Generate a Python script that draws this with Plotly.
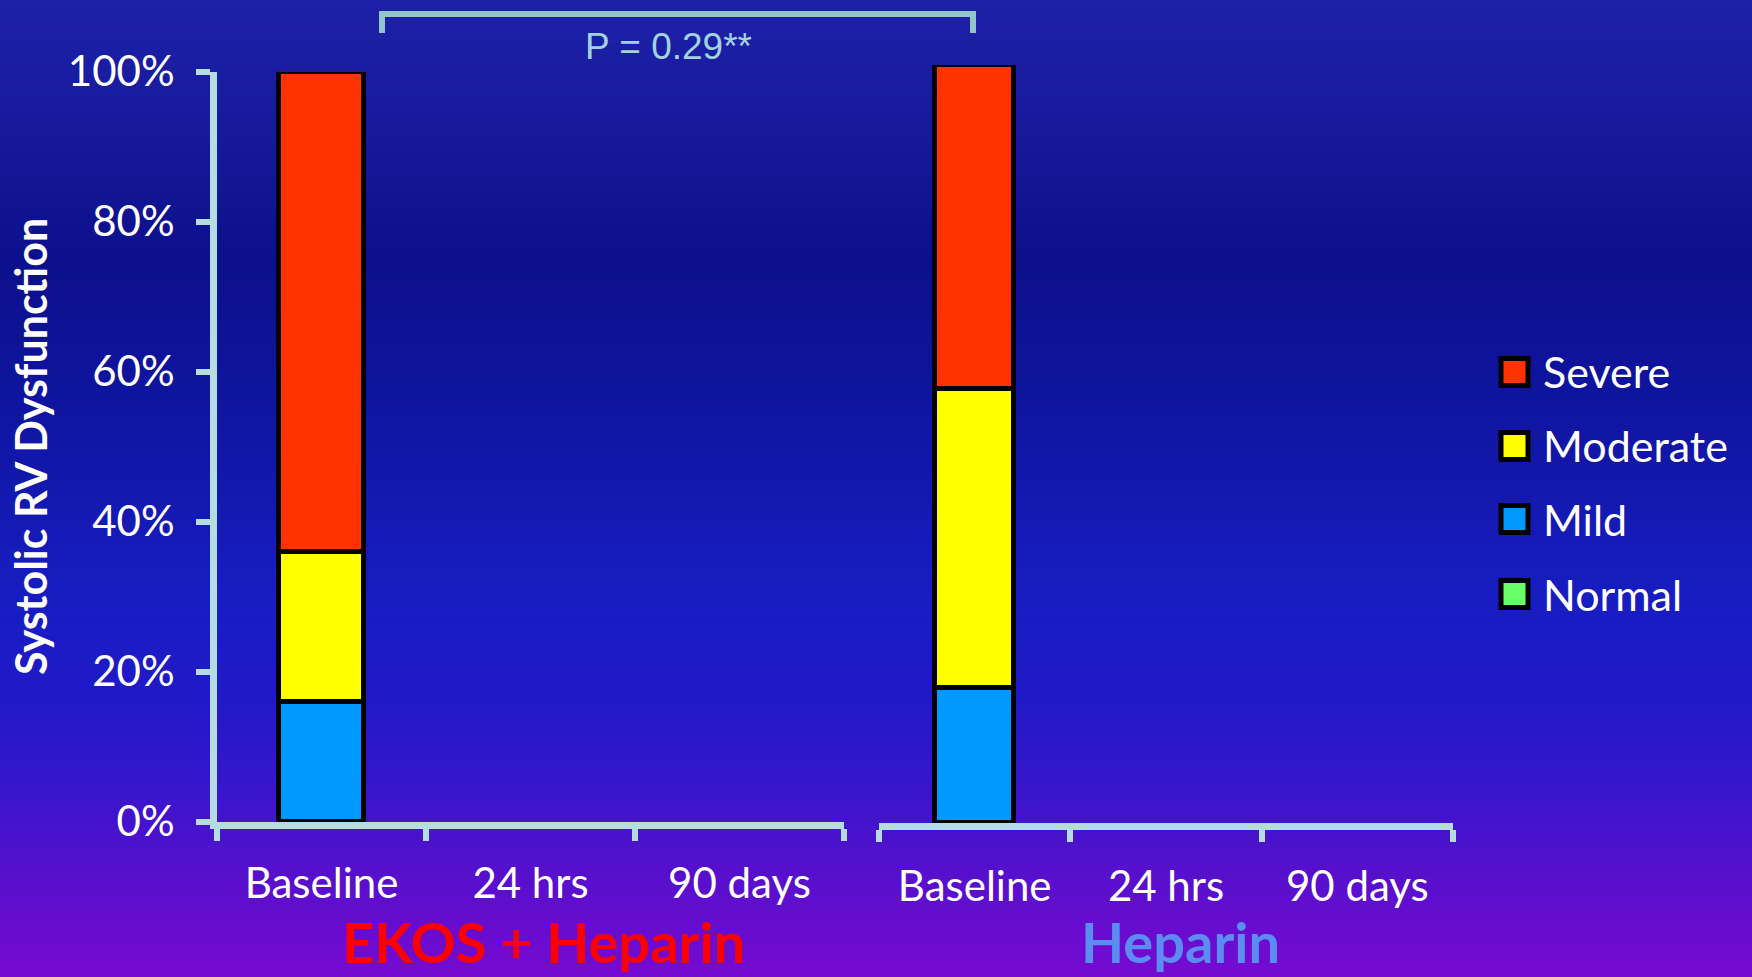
import plotly.graph_objects as go

# ---------------- data ----------------
timepoints = ["Baseline", "24 hrs", "90 days"]
severity_names = ["Normal", "Mild", "Moderate", "Severe"]
severity_colors = ["#66ff66", "#0099ff", "#ffff00", "#ff3300"]

ekos_normal = [0, None, None]
ekos_mild = [16, None, None]
ekos_moderate = [20, None, None]
ekos_severe = [64, None, None]

hep_normal = [0, None, None]
hep_mild = [17.8, None, None]
hep_moderate = [39.4, None, None]
hep_severe = [42.8, None, None]

y_ticks = [0, 20, 40, 60, 80, 100]
group_labels = ["EKOS + Heparin", "Heparin"]
p_text = "P = 0.29**"
y_title = "Systolic RV Dysfunction"

# ---------------- layout helpers ----------------
W, H = 1752, 977


def px(x):
    return x / W


def py(y):
    return 1 - y / H


AXIS_COLOR = "#b5dde0"
FONT = "Lato"

fig = go.Figure()

ekos_series = [ekos_normal, ekos_mild, ekos_moderate, ekos_severe]
hep_series = [hep_normal, hep_mild, hep_moderate, hep_severe]

for name, color, vals in zip(severity_names, severity_colors, ekos_series):
    fig.add_trace(go.Bar(x=timepoints, y=vals, name=name, xaxis="x", yaxis="y",
                         marker=dict(color=color, line=dict(color="black", width=5)),
                         width=0.41, showlegend=False))
for name, color, vals in zip(severity_names, severity_colors, hep_series):
    fig.add_trace(go.Bar(x=timepoints, y=vals, name=name, xaxis="x2", yaxis="y2",
                         marker=dict(color=color, line=dict(color="black", width=5)),
                         width=0.41, showlegend=False))

# ---------------- background gradient ----------------
stops = [
    (0, (0x1d, 0x21, 0xa8)),
    (120, (0x17, 0x1a, 0x9c)),
    (260, (0x0c, 0x10, 0x8c)),
    (420, (0x10, 0x15, 0xa2)),
    (600, (0x18, 0x1d, 0xc2)),
    (700, (0x20, 0x19, 0xc8)),
    (780, (0x35, 0x16, 0xcc)),
    (870, (0x55, 0x10, 0xcc)),
    (977, (0x76, 0x0a, 0xd2)),
]


def color_at(y):
    for (y0, c0), (y1, c1) in zip(stops[:-1], stops[1:]):
        if y0 <= y <= y1:
            t = (y - y0) / (y1 - y0)
            return "rgb(%d,%d,%d)" % tuple(round(a + (b - a) * t) for a, b in zip(c0, c1))
    return "rgb(%d,%d,%d)" % stops[-1][1]


shapes = []
step = 4
for y in range(0, H, step):
    shapes.append(dict(type="rect", xref="paper", yref="paper", layer="below",
                       x0=0, x1=1, y0=py(y + step + 1), y1=py(y),
                       fillcolor=color_at(y + step / 2), line=dict(width=0)))

# bracket for p-value
shapes.append(dict(type="path", xref="paper", yref="paper", layer="above",
                   path="M %f,%f L %f,%f L %f,%f L %f,%f" % (
                       px(382), py(33), px(382), py(14), px(973), py(14), px(973), py(33)),
                   line=dict(color="#93c4ca", width=6)))

annotations = []
# manual legend (top to bottom: Severe, Moderate, Mild, Normal)
legend_y = [372, 446, 519, 594]
for yy, name, color in zip(legend_y, severity_names[::-1], severity_colors[::-1]):
    shapes.append(dict(type="rect", xref="paper", yref="paper", layer="above",
                       x0=px(1501), x1=px(1528), y0=py(yy + 13.5), y1=py(yy - 13.5),
                       fillcolor=color, line=dict(color="black", width=5)))
    annotations.append(dict(xref="paper", yref="paper", x=px(1541), y=py(yy),
                            xanchor="left", yanchor="middle", showarrow=False,
                            text=name, font=dict(family=FONT, size=43, color="white")))

annotations += [
    dict(xref="paper", yref="paper", x=px(668), y=py(46), showarrow=False,
         xanchor="center", yanchor="middle", text=p_text,
         font=dict(family="Liberation Sans", size=37, color="#a2d2de")),
    dict(xref="paper", yref="paper", x=px(30), y=py(447), showarrow=False,
         xanchor="center", yanchor="middle", textangle=-90, text=y_title,
         font=dict(family=FONT, size=43, color="white", weight="bold")),
    dict(xref="paper", yref="paper", x=px(543), y=py(941), showarrow=False,
         xanchor="center", yanchor="middle", text=group_labels[0],
         font=dict(family=FONT, size=56, color="#ff0000", weight="bold")),
    dict(xref="paper", yref="paper", x=px(1180), y=py(941), showarrow=False,
         xanchor="center", yanchor="middle", text=group_labels[1],
         font=dict(family=FONT, size=56, color="#5b8cf2", weight="bold")),
]

tickfont = dict(family=FONT, size=42, color="white")

fig.update_layout(
    template="none",
    width=W, height=H,
    margin=dict(l=0, r=0, t=0, b=0, pad=0, autoexpand=False),
    paper_bgcolor="#1418b0",
    plot_bgcolor="rgba(0,0,0,0)",
    barmode="stack",
    bargap=0,
    showlegend=False,
    shapes=shapes,
    annotations=annotations,
    xaxis=dict(domain=[px(217), px(844)], anchor="y", type="category",
               categoryorder="array", categoryarray=timepoints, range=[-0.5, 2.5],
               showline=True, linecolor=AXIS_COLOR, linewidth=7,
               ticks="outside", tickson="boundaries", ticklen=12, tickwidth=6,
               tickcolor=AXIS_COLOR, tickfont=tickfont, ticklabelstandoff=19,
               automargin=False,
               showgrid=False, zeroline=False, layer="above traces", fixedrange=True),
    yaxis=dict(domain=[py(821.7), py(71.7)], anchor="x", range=[0, 100],
               tickvals=y_ticks, ticktext=["%d%%" % v for v in y_ticks],
               showline=True, linecolor=AXIS_COLOR, linewidth=7,
               ticks="outside", ticklen=14, tickwidth=6, tickcolor=AXIS_COLOR,
               tickfont=tickfont, ticklabelstandoff=13, automargin=False,
               showgrid=False, zeroline=False, layer="above traces", fixedrange=True),
    xaxis2=dict(domain=[px(879), px(1453)], anchor="y2", type="category",
                categoryorder="array", categoryarray=timepoints, range=[-0.5, 2.5],
                showline=True, linecolor=AXIS_COLOR, linewidth=7,
                ticks="outside", tickson="boundaries", ticklen=12, tickwidth=6,
                tickcolor=AXIS_COLOR, tickfont=tickfont, ticklabelstandoff=21,
                automargin=False,
                showgrid=False, zeroline=False, layer="above traces", fixedrange=True),
    yaxis2=dict(domain=[py(823), py(65)], anchor="x2", range=[0, 100],
                visible=False, showgrid=False, zeroline=False, fixedrange=True,
                automargin=False),
)

fig.write_html("out.html")
